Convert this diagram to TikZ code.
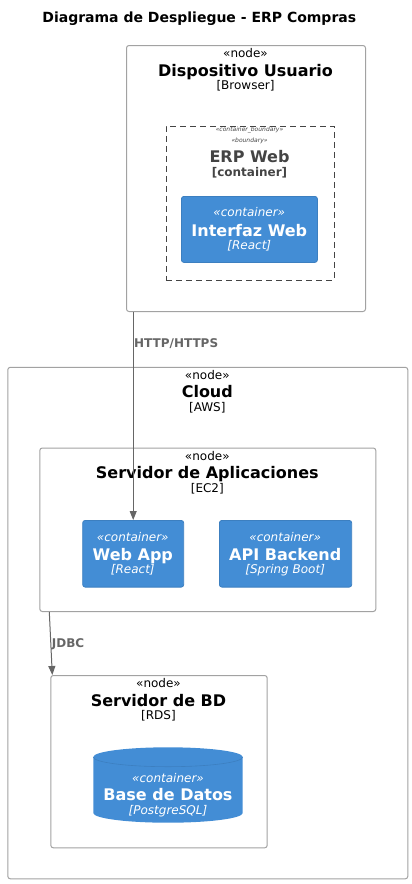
\documentclass[tikz,border=0pt]{standalone}
\usepackage{fontspec}
\setmainfont{DejaVu Sans}
\usetikzlibrary{arrows.meta,calc}
\definecolor{contblue}{HTML}{438DD5}
\definecolor{contline}{HTML}{3C7FC0}
\definecolor{nodeline}{HTML}{A2A2A2}
\definecolor{relgray}{HTML}{666666}
\definecolor{bndgray}{HTML}{444444}
\newcommand{\fs}[1]{\fontsize{#1}{#1}\selectfont}
\begin{document}
\begin{tikzpicture}[x=1pt,y=-1pt,
    depnode/.style={draw=nodeline, line width=1pt, rounded corners=2.5pt, anchor=north west, inner sep=0pt},
    contbox/.style={draw=contline, fill=contblue, line width=0.8pt, rounded corners=2.5pt, anchor=north west, inner sep=0pt},
    bndbox/.style={draw=bndgray, dash pattern=on 6pt off 4pt, line width=0.9pt, anchor=north west, inner sep=0pt},
    txt/.style={anchor=base, inner sep=0pt},
    wtxt/.style={anchor=base, inner sep=0pt, text=white},
    rel/.style={draw=relgray, line width=1pt, -{Triangle[width=7pt,length=9pt]}},
    rellbl/.style={anchor=base west, inner sep=0pt, text=relgray, font=\fs{12}\bfseries}]
    \useasboundingbox (0,0) rectangle (412,884);
    \node[txt, font=\fs{14}\bfseries] (title) at (199.3,22.6) {Diagrama de Despliegue - ERP Compras};

    % dispositivo del usuario
    \node[depnode, minimum width=239pt, minimum height=266pt] (dev) at (126,45) {};
    \node[txt, font=\fs{12}] at (245.5,57) {«node»};
    \node[txt, font=\fs{16}\bfseries] at (245.5,76.5) {Dispositivo Usuario};
    \node[txt, font=\fs{12}] at (245.5,89) {[Browser]};
    \node[bndbox, minimum width=168pt, minimum height=154pt] (erpweb) at (165.5,125.5) {};
    \node[txt, font=\fs{6}\itshape, text=bndgray] at (249.5,131.5) {«container\_boundary»};
    \node[txt, font=\fs{6}\itshape, text=bndgray] at (249.5,142) {«boundary»};
    \node[txt, font=\fs{16}\bfseries, text=bndgray] at (249.5,162.5) {ERP Web};
    \node[txt, font=\fs{12}\bfseries, text=bndgray] at (249.5,176) {[container]};
    \node[contbox, minimum width=136pt, minimum height=66pt] (ui) at (181,196) {};
    \node[wtxt, font=\fs{12}\itshape] at (249.3,216.5) {«container»};
    \node[wtxt, font=\fs{16}\bfseries] at (249.3,236) {Interfaz Web};
    \node[wtxt, font=\fs{12}\itshape] at (249.3,249) {[React]};

    % nube
    \node[depnode, minimum width=400pt, minimum height=511.5pt] (cloud) at (7.3,366.8) {};
    \node[txt, font=\fs{12}] at (207.3,379) {«node»};
    \node[txt, font=\fs{16}\bfseries] at (207.3,397.5) {Cloud};
    \node[txt, font=\fs{12}] at (207.3,411) {[AWS]};

    % servidor de aplicaciones
    \node[depnode, minimum width=336pt, minimum height=163.5pt] (appsrv) at (39.3,447.5) {};
    \node[txt, font=\fs{12}] at (207.3,460) {«node»};
    \node[txt, font=\fs{16}\bfseries] at (207.3,478.5) {Servidor de Aplicaciones};
    \node[txt, font=\fs{12}] at (207.3,492) {[EC2]};
    \node[contbox, minimum width=101pt, minimum height=66.7pt] (webapp) at (82.3,520) {};
    \node[wtxt, font=\fs{12}\itshape] at (132.8,541) {«container»};
    \node[wtxt, font=\fs{16}\bfseries] at (132.8,560) {Web App};
    \node[wtxt, font=\fs{12}\itshape] at (132.8,573) {[React]};
    \node[contbox, minimum width=132.3pt, minimum height=66.7pt] (api) at (219,520) {};
    \node[wtxt, font=\fs{12}\itshape] at (285.2,541) {«container»};
    \node[wtxt, font=\fs{16}\bfseries] at (285.2,560) {API Backend};
    \node[wtxt, font=\fs{12}\itshape] at (285.2,573) {[Spring Boot]};

    % servidor de base de datos
    \node[depnode, minimum width=216.4pt, minimum height=172.3pt] (dbsrv) at (50.3,675) {};
    \node[txt, font=\fs{12}] at (158.5,687) {«node»};
    \node[txt, font=\fs{16}\bfseries] at (158.5,706) {Servidor de BD};
    \node[txt, font=\fs{12}] at (158.5,719) {[RDS]};
    \fill[contblue] (93.3,757) -- (93.3,813) arc[start angle=180, end angle=0, x radius=74.7, y radius=9.7]
        -- (242.7,757) arc[start angle=360, end angle=180, x radius=74.7, y radius=9.7] -- cycle;
    \draw[contline, line width=0.6pt] (93.3,757) arc[start angle=180, end angle=0, x radius=74.7, y radius=9.7];
    \node[wtxt, font=\fs{12}\itshape] (db) at (168,782) {«container»};
    \node[wtxt, font=\fs{16}\bfseries] at (168,800.7) {Base de Datos};
    \node[wtxt, font=\fs{12}\itshape] at (168,814) {[PostgreSQL]};

    % relaciones
    \draw[rel] (dev.south -| webapp.north) -- (webapp.north);
    \node[rellbl] at (134,347) {HTTP/HTTPS};
    \draw[rel] ($(appsrv.south west)+(10,0)$) -- ($(dbsrv.north west)+(2,0)$);
    \node[rellbl] at (51.7,647) {JDBC};
\end{tikzpicture}
\end{document}
